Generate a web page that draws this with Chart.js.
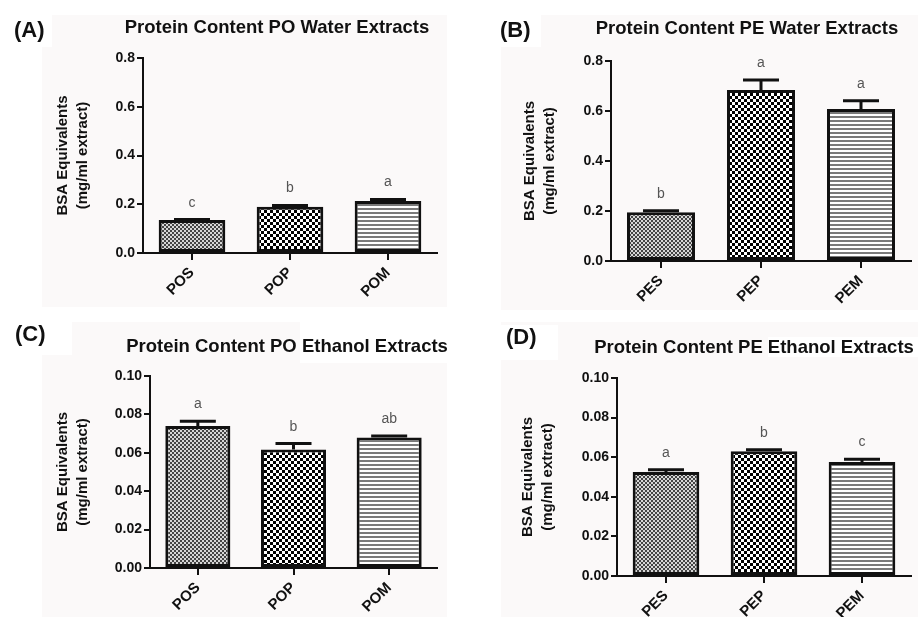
<!DOCTYPE html>
<html>
<head>
<meta charset="utf-8">
<title>Protein content</title>
<script src="https://cdn.jsdelivr.net/npm/chart.js@4.4.0/dist/chart.umd.min.js"></script>
<style>
    html, body { margin: 0; padding: 0; background: #ffffff; }
    #page { position: relative; width: 918px; height: 617px; overflow: hidden; }
    .bg    { position: absolute; background: #fbf9f9; }
    .wbox  { position: absolute; background: #ffffff; }
    canvas { position: absolute; }
</style>
</head>
<body>
<div id="page">
    <div class="bg"   style="left:42px;top:15px;width:405px;height:292px"></div>
    <div class="wbox" style="left:0;top:0;width:52px;height:47px"></div>
    <div class="bg"   style="left:501px;top:15px;width:417px;height:295px"></div>
    <div class="wbox" style="left:478px;top:0;width:63px;height:47px"></div>
    <div class="bg"   style="left:42px;top:322px;width:405px;height:295px"></div>
    <div class="wbox" style="left:0;top:310px;width:72px;height:45px"></div>
    <div class="wbox" style="left:300px;top:317px;width:160px;height:46px"></div>
    <div class="bg"   style="left:501px;top:322px;width:417px;height:295px"></div>
    <div class="wbox" style="left:476px;top:325px;width:82px;height:35px"></div>
    <div class="wbox" style="left:768px;top:337px;width:150px;height:20px"></div>

    <canvas id="chartA" width="459" height="308" style="left:0;top:0"></canvas>
    <canvas id="chartB" width="459" height="308" style="left:459px;top:0"></canvas>
    <canvas id="chartC" width="459" height="309" style="left:0;top:308px"></canvas>
    <canvas id="chartD" width="459" height="309" style="left:459px;top:308px"></canvas>
</div>

<script>
/* ---- data ---- */

var PO_LABELS = ['POS', 'POP', 'POM'];
var PE_LABELS = ['PES', 'PEP', 'PEM'];

var PO_WATER_MEAN    = [0.135, 0.190, 0.213];
var PO_WATER_SEM     = [0.002, 0.005, 0.007];
var PO_WATER_LETTERS = ['c', 'b', 'a'];

var PE_WATER_MEAN    = [0.195, 0.684, 0.608];
var PE_WATER_SEM     = [0.006, 0.040, 0.033];
var PE_WATER_LETTERS = ['b', 'a', 'a'];

var PO_ETOH_MEAN    = [0.0740, 0.0617, 0.0680];
var PO_ETOH_SEM     = [0.0024, 0.0031, 0.0008];
var PO_ETOH_LETTERS = ['a', 'b', 'ab'];

var PE_ETOH_MEAN    = [0.0525, 0.0630, 0.0576];
var PE_ETOH_SEM     = [0.0012, 0.0008, 0.0014];
var PE_ETOH_LETTERS = ['a', 'b', 'c'];

var WATER_TICK_STEP = 0.2;
var ETOH_TICK_STEP  = 0.02;

var Y_TITLE = ['BSA Equivalents', '(mg/ml extract)'];

/* ---- styling ---- */

var FAMILY = "'Liberation Sans', Arial, Helvetica, sans-serif";
var INK    = '#111111';

function makePattern(kind) {
    var c = document.createElement('canvas');
    var g = c.getContext('2d');
    if (kind === 'fine') {
        c.width = 4; c.height = 4;
        g.fillStyle = '#d6d6d6'; g.fillRect(0, 0, 4, 4);
        g.fillStyle = '#444444';
        g.fillRect(0, 0, 2, 2); g.fillRect(2, 2, 2, 2);
    } else if (kind === 'coarse') {
        c.width = 6; c.height = 6;
        g.fillStyle = '#ffffff'; g.fillRect(0, 0, 6, 6);
        g.fillStyle = '#000000';
        g.fillRect(0, 0, 3, 3); g.fillRect(3, 3, 3, 3);
    } else {
        c.width = 4; c.height = 4;
        g.fillStyle = '#ffffff'; g.fillRect(0, 0, 4, 4);
        g.fillStyle = '#7a7a7a'; g.fillRect(0, 0, 4, 2);
    }
    return g.createPattern(c, 'repeat');
}

var FILLS = [makePattern('fine'), makePattern('coarse'), makePattern('lines')];

/* ---- plugin: panel tag, title, error bars, letters ---- */

var panelDecor = {
    id: 'panelDecor',
    afterDatasetsDraw: function (chart, args, opts) {
        var ctx  = chart.ctx;
        var meta = chart.getDatasetMeta(0);
        var ys   = chart.scales.y;

        ctx.save();
        ctx.strokeStyle = INK;
        ctx.lineWidth = 3;
        meta.data.forEach(function (bar, i) {
            var top = ys.getPixelForValue(opts.mean[i] + opts.sem[i]);
            ctx.beginPath();
            ctx.moveTo(bar.x, bar.y);
            ctx.lineTo(bar.x, top);
            ctx.moveTo(bar.x - opts.cap, top);
            ctx.lineTo(bar.x + opts.cap, top);
            ctx.stroke();

            ctx.fillStyle = '#555555';
            ctx.font = '14px ' + FAMILY;
            ctx.textAlign = 'center';
            ctx.textBaseline = 'alphabetic';
            ctx.fillText(opts.letters[i], bar.x, top - 13);
        });

        ctx.fillStyle = INK;
        ctx.textBaseline = 'middle';
        ctx.font = 'bold 18.5px ' + FAMILY;
        ctx.textAlign = 'center';
        ctx.fillText(opts.title, opts.titleX, opts.titleY);
        ctx.font = 'bold 22px ' + FAMILY;
        ctx.textAlign = 'left';
        ctx.fillText(opts.tag, opts.tagX, opts.tagY);
        ctx.restore();
    }
};

function makePanel(id, p) {
    var canvas = document.getElementById(id);
    var W = canvas.width, H = canvas.height;
    var decimals = p.step < 0.1 ? 2 : 1;

    return new Chart(canvas.getContext('2d'), {
        type: 'bar',
        data: {
            labels: p.labels,
            datasets: [{
                data: p.mean,
                backgroundColor: FILLS,
                borderColor: INK,
                borderWidth: 3,
                borderSkipped: false,
                barPercentage: 0.68,
                categoryPercentage: 1
            }]
        },
        options: {
            responsive: false,
            animation: false,
            layout: { padding: { left: p.padLeft, top: p.area.top, right: W - p.area.right, bottom: 0 } },
            plugins: {
                legend:  { display: false },
                tooltip: { enabled: false },
                panelDecor: {
                    mean: p.mean, sem: p.sem, letters: p.letters, cap: 18,
                    title: p.title, titleX: p.titleX, titleY: p.titleY,
                    tag: p.tag, tagX: p.tagX, tagY: p.tagY
                }
            },
            scales: {
                x: {
                    grid:   { offset: false, drawOnChartArea: false, tickLength: 7, color: INK, lineWidth: 2 },
                    border: { color: INK, width: 2 },
                    ticks:  { minRotation: 45, maxRotation: 45, padding: 4, color: INK,
                              font: { family: FAMILY, size: 15, weight: 'bold' } },
                    afterFit: function (s) { s.height = H - p.area.bottom; }
                },
                y: {
                    min: 0,
                    max: p.max,
                    grid:   { drawOnChartArea: false, tickLength: 6, color: INK, lineWidth: 2 },
                    border: { color: INK, width: 2 },
                    ticks:  { stepSize: p.step, padding: 2, color: INK,
                              font: { family: FAMILY, size: 14, weight: 'bold' },
                              callback: function (v) { return Number(v).toFixed(decimals); } },
                    title:  { display: true, text: Y_TITLE, color: INK, padding: 0,
                              font: { family: FAMILY, size: 15, weight: 'bold', lineHeight: 1.33 } },
                    afterFit: function (s) { s.width = p.area.left - p.padLeft; }
                }
            }
        },
        plugins: [panelDecor]
    });
}

makePanel('chartA', {
    labels: PO_LABELS, mean: PO_WATER_MEAN, sem: PO_WATER_SEM, letters: PO_WATER_LETTERS,
    max: 0.8, step: WATER_TICK_STEP,
    area: { left: 143, right: 437, top: 58, bottom: 253 }, padLeft: 53,
    title: 'Protein Content PO Water Extracts', titleX: 277, titleY: 28,
    tag: '(A)', tagX: 14, tagY: 31
});

makePanel('chartB', {
    labels: PE_LABELS, mean: PE_WATER_MEAN, sem: PE_WATER_SEM, letters: PE_WATER_LETTERS,
    max: 0.8, step: WATER_TICK_STEP,
    area: { left: 152, right: 452, top: 61, bottom: 261 }, padLeft: 61,
    title: 'Protein Content PE Water Extracts', titleX: 288, titleY: 29,
    tag: '(B)', tagX: 41, tagY: 31
});

makePanel('chartC', {
    labels: PO_LABELS, mean: PO_ETOH_MEAN, sem: PO_ETOH_SEM, letters: PO_ETOH_LETTERS,
    max: 0.1, step: ETOH_TICK_STEP,
    area: { left: 150, right: 437, top: 68, bottom: 260 }, padLeft: 53,
    title: 'Protein Content PO Ethanol Extracts', titleX: 287, titleY: 39,
    tag: '(C)', tagX: 15, tagY: 27
});

makePanel('chartD', {
    labels: PE_LABELS, mean: PE_ETOH_MEAN, sem: PE_ETOH_SEM, letters: PE_ETOH_LETTERS,
    max: 0.1, step: ETOH_TICK_STEP,
    area: { left: 158, right: 452, top: 70, bottom: 268 }, padLeft: 59,
    title: 'Protein Content PE Ethanol Extracts', titleX: 295, titleY: 40,
    tag: '(D)', tagX: 47, tagY: 30
});
</script>
</body>
</html>
